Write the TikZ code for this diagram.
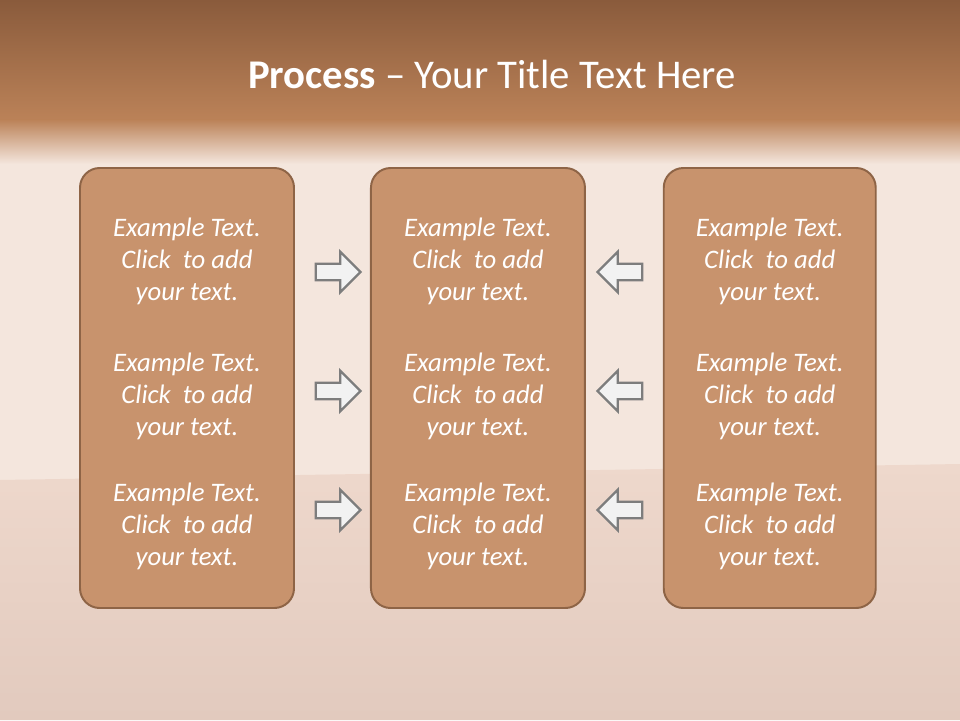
\documentclass[tikz,border=0pt]{standalone}
\usepackage{fontspec}
\setmainfont{Carlito}
\usepackage{tikz}
\usetikzlibrary{shapes.arrows, positioning, calc}
\definecolor{mytop}{RGB}{138,91,60}
\definecolor{myband}{RGB}{187,130,88}
\definecolor{mywall}{RGB}{244,230,221}
\definecolor{myfloor}{RGB}{238,216,204}
\definecolor{mywood}{RGB}{226,202,190}
\definecolor{myfill}{RGB}{200,147,109}
\definecolor{myedge}{RGB}{142,100,70}
\definecolor{arrfill}{RGB}{242,242,242}
\definecolor{arredge}{RGB}{125,125,125}
\tikzset{
  panel/.style={rectangle, draw=myedge, fill=myfill,
    minimum width=5.35cm, minimum height=11cm,
    rounded corners=14pt, line width=1.4pt},
  txt/.style={align=center, text=white, inner sep=0pt,
    font=\itshape\fontsize{19}{22.8}\selectfont},
  rarrow/.style={single arrow, draw=arredge, fill=arrfill,
    minimum height=1.12cm, inner xsep=0pt, inner ysep=0.18cm,
    single arrow head extend=0.3cm, single arrow head indent=0pt,
    line width=1.6pt},
  larrow/.style={rarrow, shape border rotate=180},
  title/.style={text=white, font=\fontsize{29}{34}\selectfont}
}
\begin{document}
\begin{tikzpicture}[node distance=1.0cm and 1.875cm]
  % backdrop
  \fill[mywall] (0,0) rectangle (24,18);
  \shade[top color=mytop, bottom color=myband] (0,18) rectangle (24,15);
  \shade[top color=myband, bottom color=mywall] (0,15.01) rectangle (24,13.9);
  \shade[top color=myfloor, bottom color=mywood] (0,6) -- (24,6.4) -- (24,0) -- (0,0) -- cycle;
  \useasboundingbox (0,0) rectangle (24,18);

  \node[title] (ttl) at (12.3,16.15) {\textbf{Process} -- Your Title Text Here};

  \node[panel] (b1) at (4.675,8.3) {};
  \node[panel, right=of b1] (b2) {};
  \node[panel, right=1.92cm of b2, minimum width=5.3cm] (b3) {};

  \coordinate (r1) at (0,11.475);
  \coordinate (r2) at (0,8.1);
  \coordinate (r3) at (0,4.85);

  \node[txt] (t11) at (b1 |- r1) {Example Text.\\Click~ to add\\your text.};
  \node[txt] (t12) at (b1 |- r2) {Example Text.\\Click~ to add\\your text.};
  \node[txt] (t13) at (b1 |- r3) {Example Text.\\Click~ to add\\your text.};
  \node[txt] (t21) at (b2 |- r1) {Example Text.\\Click~ to add\\your text.};
  \node[txt] (t22) at (b2 |- r2) {Example Text.\\Click~ to add\\your text.};
  \node[txt] (t23) at (b2 |- r3) {Example Text.\\Click~ to add\\your text.};
  \node[txt] (t31) at (b3 |- r1) {Example Text.\\Click~ to add\\your text.};
  \node[txt] (t32) at (b3 |- r2) {Example Text.\\Click~ to add\\your text.};
  \node[txt] (t33) at (b3 |- r3) {Example Text.\\Click~ to add\\your text.};

  \node[rarrow] (ar1) at (8.35,11.2) {};
  \node[rarrow] (ar2) at (8.35,8.225) {};
  \node[rarrow] (ar3) at (8.35,5.25) {};
  \node[larrow] (al1) at (15.6,11.2) {};
  \node[larrow] (al2) at (15.6,8.225) {};
  \node[larrow] (al3) at (15.6,5.25) {};
\end{tikzpicture}
\end{document}
